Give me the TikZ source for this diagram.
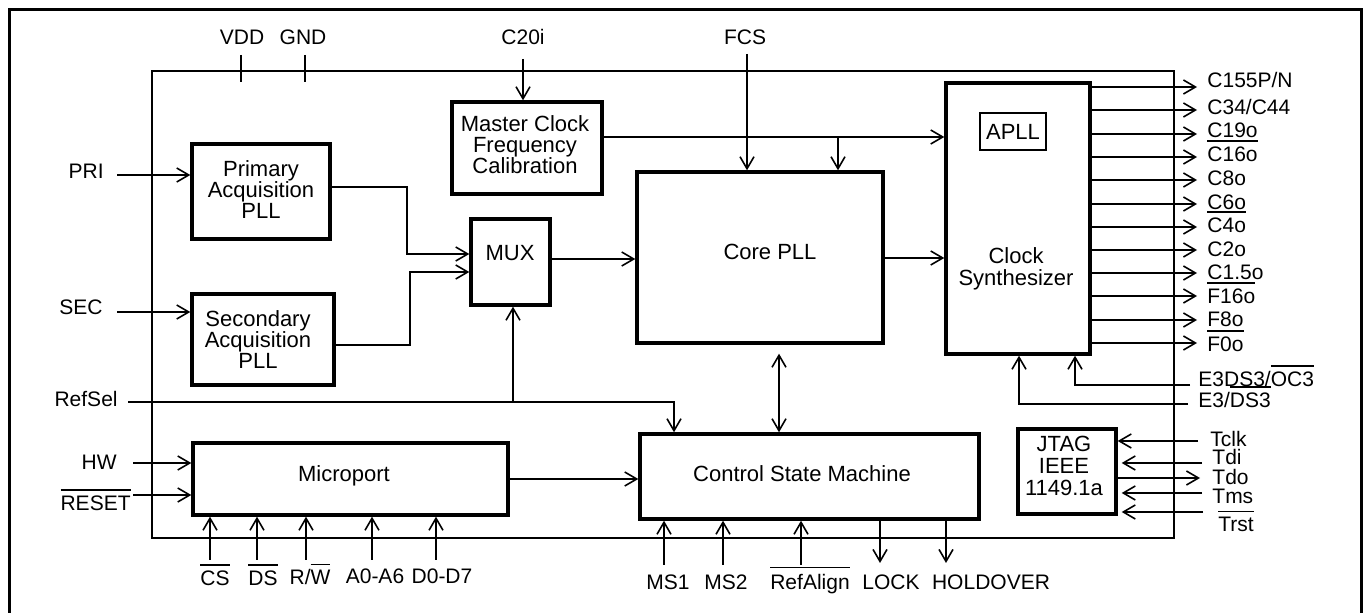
\documentclass[tikz,border=0pt]{standalone}
\usepackage{fontspec}
\setmainfont{Liberation Sans}
\usetikzlibrary{arrows.meta}
\newcommand\ovl[1]{\vbox{\hrule height 0.7pt\kern 2.8pt\hbox{#1}}}
\begin{document}
\begin{tikzpicture}[x=0.5pt,y=-0.5pt,
  blk/.style={draw, line width=1.7pt, inner sep=0pt},
  wire/.style={line width=1pt},
  arr/.style={wire, -{Straight Barb[length=6pt,width=7pt,line width=0.8pt]}},
  dbl/.style={wire, {Straight Barb[length=6pt,width=7pt,line width=0.8pt]}-{Straight Barb[length=6pt,width=7pt,line width=0.8pt]}},
  btxt/.style={font=\fontsize{11pt}{10.5pt}\selectfont, align=center, inner sep=0pt},
  lbl/.style={font=\fontsize{10.5pt}{12pt}\selectfont, inner sep=0pt},
]
\fill[white] (0,0) rectangle (1364,613);
\useasboundingbox (0,0) rectangle (1364,613);
% outer frame
\draw[line width=1.5pt] (9,625) -- (9,10) -- (1361,10) -- (1361,625);
% chip boundary
\node[draw, line width=1pt, minimum width=511pt, minimum height=233.5pt, inner sep=0pt] (chip) at (663,304.5) {};

% blocks
\node[blk, minimum width=75pt, minimum height=46pt] (mcf) at (527,148) {};
\node[blk, minimum width=69pt, minimum height=47.5pt] (pri) at (261,191.5) {};
\node[blk, minimum width=71pt, minimum height=45.5pt] (sec) at (263,339.5) {};
\node[blk, minimum width=39.5pt, minimum height=43pt] (mux) at (510.5,262) {};
\node[blk, minimum width=123pt, minimum height=85.5pt] (core) at (760,257.5) {};
\node[blk, minimum width=72pt, minimum height=135.5pt] (syn) at (1018,218.5) {};
\node[draw, line width=1pt, minimum width=33pt, minimum height=18.5pt, inner sep=0pt] (apll) at (1013,131.5) {};
\node[blk, minimum width=169.5pt, minimum height=42.5pt] (csm) at (809.5,476.5) {};
\node[blk, minimum width=157.5pt, minimum height=36pt] (mp) at (350.5,479) {};
\node[blk, minimum width=49pt, minimum height=42.5pt] (jtag) at (1067,471.5) {};

% block texts
\node[btxt] (tmcf) at (525,145) {Master Clock\\Frequency\\Calibration};
\node[btxt] (tpri) at (261,190) {Primary\\Acquisition\\PLL};
\node[btxt] (tsec) at (258,340) {Secondary\\Acquisition\\PLL};
\node[btxt] (tmux) at (510,253) {MUX};
\node[btxt] (tcore) at (770,252) {Core PLL};
\node[btxt, font=\fontsize{11pt}{11pt}\selectfont] (tsyn) at (1016,269) {Clock\\Synthesizer};
\node[btxt] (tapll) at (1013,131.5) {APLL};
\node[btxt] (tcsm) at (802,474) {Control State Machine};
\node[btxt] (tmp) at (344,476) {Microport};
\node[btxt, font=\fontsize{11pt}{11pt}\selectfont] (tjtag) at (1064,466) {JTAG\\IEEE\\1149.1a};

% top labels and pins
\node[lbl, anchor=base] (lvdd) at (242,45) {VDD};
\node[lbl, anchor=base] (lgnd) at (303,45) {GND};
\node[lbl, anchor=base] (lc20) at (523,45) {C20i};
\node[lbl, anchor=base] (lfcs) at (745,45) {FCS};
\coordinate (pvdd) at (241,55);
\coordinate (pgnd) at (305,55);
\draw[wire] (pvdd) -- ++(0,27);
\draw[wire] (pgnd) -- ++(0,27);
\coordinate (pc20) at (523,59);
\draw[arr] (pc20) -- (pc20 |- mcf.north);
\coordinate (pfcs) at (747,54);
\draw[arr] (pfcs) -- (pfcs |- core.north);

% master clock to synthesizer and core
\draw[arr] (mcf.east |- 0,137) -- (syn.west |- 0,137);
\coordinate (br) at (838,137);
\draw[arr] (br) -- (br |- core.north);

% left inputs
\node[lbl, anchor=base east] (lpri) at (104,179) {PRI};
\node[lbl, anchor=base east] (lsec) at (103,315) {SEC};
\node[lbl, anchor=base east] (lrs) at (118,407) {RefSel};
\node[lbl, anchor=base east] (lhw) at (117,470) {HW};
\node[lbl, anchor=base east] (lrst) at (131,511) {\ovl{RESET}};
\coordinate (ppri) at (117,175);
\coordinate (psec) at (117,312);
\coordinate (prs) at (128,402);
\coordinate (phw) at (133,463);
\coordinate (prst) at (133,495);
\draw[arr] (ppri) -- (pri.west |- ppri);
\draw[arr] (psec) -- (sec.west |- psec);
\draw[arr] (phw) -- (mp.west |- phw);
\draw[arr] (prst) -- (mp.west |- prst);
\draw[arr] (prs) -- (674,402) -- (csm.north -| 674,0);
\draw[arr] (513,402) -- (mux.south -| 513,0);

% internal paths
\draw[arr] (pri.east |- 0,187) -- (407,187) -- (407,254) -- (mux.west |- 0,254);
\draw[arr] (sec.east |- 0,345) -- (410,345) -- (410,272) -- (mux.west |- 0,272);
\draw[arr] (mux.east |- 0,259) -- (core.west |- 0,259);
\draw[arr] (core.east |- 0,258) -- (syn.west |- 0,258);
\draw[dbl, shorten <=4.5pt] (core.south -| 779,0) -- (csm.north -| 779,0);
\draw[arr] (mp.east |- 0,479) -- (csm.west |- 0,479);

% microport pins
\foreach \n/\x/\lx/\ly/\t in {cs/210/215/586/{\ovl{CS}}, ds/257/263/586/{\ovl{DS}}, rw/306/310/585/{R/\ovl{W}}, a/372/375/584/{A0-A6}, d/436/442/584/{D0-D7}}{
  \node[lbl, anchor=base] (l\n) at (\lx,\ly) {\t};
  \coordinate (p\n) at (\x,560);
  \draw[arr] (p\n) -- (p\n |- mp.south);
}
% control state machine pins
\foreach \n/\x/\lx/\t in {ms1/664/668/{MS1}, ms2/723/726/{MS2}, ra/801/810/{\ovl{RefAlign}}}{
  \node[lbl, anchor=base] (l\n) at (\lx,589) {\t};
  \coordinate (p\n) at (\x,565);
  \draw[arr] (p\n) -- (p\n |- csm.south);
}
\foreach \n/\x/\lx/\t in {lock/880/891/{LOCK}, hold/946/991/{HOLDOVER}}{
  \node[lbl, anchor=base] (l\n) at (\lx,589) {\t};
  \coordinate (p\n) at (\x,563);
  \draw[arr] (p\n |- csm.south) -- (p\n);
}

% synthesizer outputs
\foreach \i/\ya/\yb/\t in {1/87/88/{C155P/N}, 2/110/115/{C34/C44}, 3/134/138/{C19o}, 4/157/162/{\ovl{C16o}}, 5/180/186/{C8o}, 6/204/210/{C6o}, 7/227/233/{\ovl{C4o}}, 8/250/257/{C2o}, 9/273/280/{C1.5o}, 10/296/304/{\ovl{F16o}}, 11/320/327/{F8o}, 12/343/352/{\ovl{F0o}}}{
  \node[lbl, anchor=base west] (lo\i) at (1207,\yb) {\t};
  \coordinate (po\i) at (1197,\ya);
  \draw[arr] (syn.east |- po\i) -- (po\i);
}

% E3 inputs
\node[lbl, anchor=base west] (le3a) at (1198,387) {E3DS3/\ovl{OC3}};
\node[lbl, anchor=base west] (le3b) at (1198,408) {E3/\ovl{DS3}};
\coordinate (pe3a) at (1190,385);
\coordinate (pe3b) at (1188,404);
\draw[arr] (pe3a) -- (1075,385) -- (syn.south -| 1075,0);
\draw[arr] (pe3b) -- (1019,404) -- (syn.south -| 1019,0);

% JTAG
\node[lbl, anchor=base west] (ltclk) at (1210,447) {Tclk};
\node[lbl, anchor=base west] (ltdi) at (1212,465) {Tdi};
\node[lbl, anchor=base west] (ltdo) at (1212,485) {Tdo};
\node[lbl, anchor=base west] (ltms) at (1212,504) {Tms};
\node[lbl, anchor=base west] (ltrst) at (1218,532) {\ovl{Trst}};
\coordinate (ptclk) at (1198,441);
\coordinate (ptdi) at (1202,463);
\coordinate (ptdo) at (1200,478);
\coordinate (ptms) at (1202,493);
\coordinate (ptrst) at (1203,512);
\draw[arr] (ptclk) -- (jtag.east |- ptclk);
\draw[arr, shorten >=2pt] (ptdi) -- (jtag.east |- ptdi);
\draw[arr] (jtag.east |- ptdo) -- (ptdo);
\draw[arr, shorten >=2pt] (ptms) -- (jtag.east |- ptms);
\draw[arr, shorten >=2pt] (ptrst) -- (jtag.east |- ptrst);
\end{tikzpicture}
\end{document}
